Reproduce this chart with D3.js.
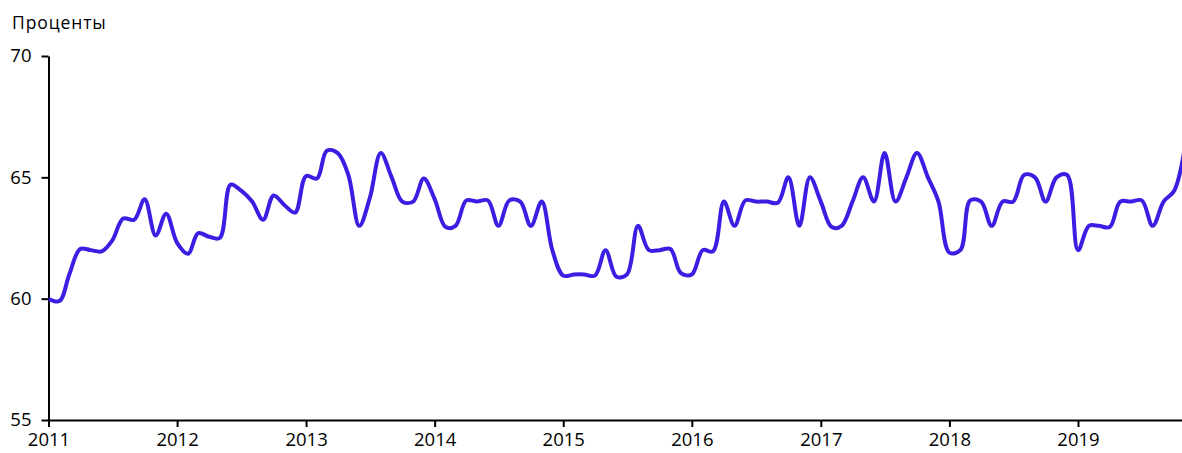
<!DOCTYPE html>
<meta charset="utf-8">
<head>
<title>Проценты</title>
</head>
<style>
body { margin: 0; background: #fff; }
text { font-family: "Open Sans", sans-serif; fill: #000; }
.axis path, .axis line { stroke: #000; stroke-width: 2; }
.axis text { font-size: 18.5px; }
</style>
<body>
<svg width="1182" height="453"></svg>
<script src="https://cdnjs.cloudflare.com/ajax/libs/d3/7.8.5/d3.min.js"></script>
<script>
const width = 1182, height = 453;

// monthly values, Jan 2011 onward
var vals2011 = [60.0, 59.9, 61.0, 62.05, 62.0, 61.95, 62.4, 63.3, 63.25, 64.1, 62.6, 63.5];
var vals2012 = [62.3, 61.85, 62.7, 62.55, 62.5, 64.7, 64.45, 64.0, 63.25, 64.25, 63.85, 63.55];
var vals2013 = [65.05, 64.95, 66.1, 66.0, 65.1, 63.0, 64.15, 66.0, 65.0, 64.0, 64.0, 64.95];
var vals2014 = [64.1, 62.95, 63.0, 64.05, 64.0, 64.05, 63.0, 64.05, 64.0, 63.0, 64.0, 62.0];
var vals2015 = [60.95, 61.0, 61.0, 60.95, 62.0, 60.9, 61.0, 63.0, 62.0, 62.0, 62.05, 61.05];
var vals2016 = [61.0, 62.0, 61.95, 64.0, 63.0, 64.05, 64.0, 64.0, 63.95, 65.0, 63.0, 65.0];
var vals2017 = [64.0, 62.95, 63.0, 64.0, 65.0, 64.0, 66.0, 64.0, 65.0, 66.0, 65.0, 64.0];
var vals2018 = [61.9, 62.0, 64.05, 64.0, 63.0, 64.0, 64.0, 65.1, 65.0, 64.0, 65.0, 65.1];
var vals2019 = [62.0, 63.0, 63.0, 62.95, 64.0, 64.0, 64.05, 63.0, 64.0, 64.45, 66.3];

var yTicks = [55, 60, 65, 70];
var yLabel = "Проценты";

var values = [].concat(vals2011, vals2012, vals2013, vals2014, vals2015,
                       vals2016, vals2017, vals2018, vals2019);
var data = values.map(function(v, i) {
	return { date: new Date(2011, i, 1), value: v };
});

//////////////////////////////////////////////////
// Scales
//////////////////////////////////////////////////
var plotLeft = 48.5, plotRight = 1182, plotTop = 56, plotBottom = 420;

var xBase = d3.scaleTime()
	.domain([new Date(2011, 0, 1), new Date(2019, 0, 1)])
	.range([plotLeft, 1078]);
var x = d3.scaleTime()
	.domain([new Date(2011, 0, 1), xBase.invert(plotRight)])
	.range([plotLeft, plotRight]);
var y = d3.scaleLinear().domain([55, 70]).range([plotBottom, plotTop]);

var svg = d3.select("svg");

svg.append("defs").append("clipPath").attr("id", "plot")
	.append("rect")
	.attr("x", plotLeft).attr("y", 0)
	.attr("width", plotRight - plotLeft).attr("height", plotBottom + 2);

// axes
svg.append("g").attr("class", "axis")
	.attr("transform", "translate(0," + plotBottom + ")")
	.call(d3.axisBottom(x)
		.ticks(d3.timeYear.every(1))
		.tickFormat(d3.timeFormat("%Y"))
		.tickSize(7).tickSizeOuter(0).tickPadding(6));

var yAxis = svg.append("g").attr("class", "axis")
	.attr("transform", "translate(" + plotLeft + ",0)")
	.call(d3.axisLeft(y)
		.tickValues(yTicks)
		.tickSize(7).tickSizeOuter(0).tickPadding(10));
yAxis.selectAll("text").attr("dy", "0.32em");

svg.append("text")
	.attr("x", 12).attr("y", 29)
	.style("font-size", "17.5px")
	.style("letter-spacing", "0.9px")
	.text(yLabel);

// line
var line = d3.line()
	.x(function(d) { return x(d.date); })
	.y(function(d) { return y(d.value); })
	.curve(d3.curveCatmullRom.alpha(0.5));

svg.append("path")
	.datum(data)
	.attr("clip-path", "url(#plot)")
	.attr("fill", "none")
	.attr("stroke", "#3a1fe3")
	.attr("stroke-width", 4)
	.attr("stroke-linejoin", "round")
	.attr("d", line);
</script>
</body>
</html>
